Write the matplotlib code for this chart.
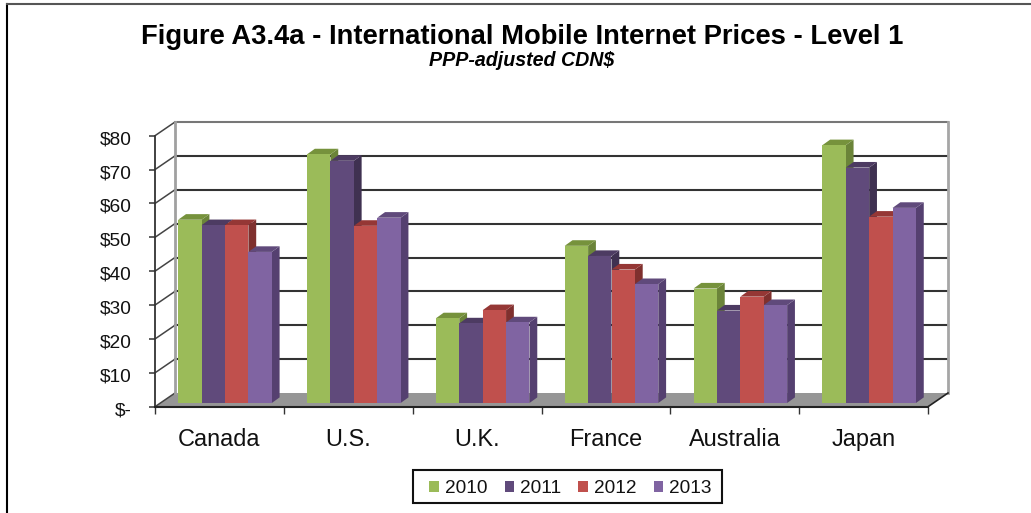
import matplotlib
matplotlib.use("AGG")
import matplotlib.pyplot as plt
from matplotlib.lines import Line2D
from matplotlib.patches import Patch, Rectangle
from matplotlib.transforms import ScaledTranslation

plt.rcParams['font.family'] = ['Liberation Sans', 'DejaVu Sans']

countries = ["Canada", "U.S.", "U.K.", "France", "Australia", "Japan"]
years = ["2010", "2011", "2012", "2013"]
y2010 = [54.1, 73.4, 25.0, 46.4, 33.8, 76.1]
y2011 = [52.5, 71.5, 23.5, 43.4, 27.3, 69.5]
y2012 = [52.5, 52.3, 27.4, 39.4, 31.4, 55.0]
y2013 = [44.6, 54.7, 23.8, 35.1, 28.9, 57.6]
series = [y2010, y2011, y2012, y2013]
y_ticks = [0, 10, 20, 30, 40, 50, 60, 70, 80]
y_labels = ["$-", "$10", "$20", "$30", "$40", "$50", "$60", "$70", "$80"]

front = ["#9BBB59", "#604A7B", "#C0504D", "#8064A2"]
top = ["#76923C", "#4D3B62", "#953735", "#604A7B"]
side = ["#6B8439", "#3F3151", "#7F302E", "#554070"]

W, H = 1031, 513
LEFT, RIGHT, BASE, TOP = 155, 928, 406.7, 135.7

fig = plt.figure(figsize=(W / 100, H / 100), dpi=100, facecolor="white")
ax = fig.add_axes([LEFT / W, 1 - BASE / H, (RIGHT - LEFT) / W, (BASE - TOP) / H])
ax.set_xlim(0, 6)
ax.set_ylim(0, 80)
ax.patch.set_visible(False)

# pixel sizes in data units
px_x = 6 / (RIGHT - LEFT)
px_y = 80 / (BASE - TOP)
wall_x = 20 * px_x
wall_y = 13.7 * px_y
bar_w = 23.4 * px_x
bar_start = 23.2 * px_x
lift = 3.7 * px_y
depth_x = 7.8 * px_x
depth_y = 5.6 * px_y

# floor and walls
ax.fill([0, 6, 6 + wall_x, wall_x], [0, 0, wall_y, wall_y], color="#969696", lw=0, zorder=1, clip_on=False)
for t in y_ticks[1:]:
    c = "#777777" if t == 80 else "#333333"
    ax.plot([wall_x, 6 + wall_x], [t + wall_y, t + wall_y], color=c, lw=1.5, zorder=2, clip_on=False)
for t in y_ticks:
    ax.plot([0, wall_x], [t, t + wall_y], color="#444444", lw=1.1, zorder=2, clip_on=False)
ax.plot([wall_x, wall_x], [wall_y, 80 + wall_y], color="#a0a0a0", lw=2, zorder=2, clip_on=False)
ax.plot([6 + wall_x, 6 + wall_x], [wall_y, 80 + wall_y], color="#a6a6a6", lw=2, zorder=2, clip_on=False)
ax.plot([6, 6 + wall_x], [0, wall_y], color="#222222", lw=1.2, zorder=2, clip_on=False)

# bars, painted left to right
z = 3
for i in range(len(countries)):
    for j, vals in enumerate(series):
        x0 = i + bar_start + j * bar_w
        x1 = x0 + bar_w
        v = vals[i]
        y1 = lift + v
        ax.fill([x1, x1 + depth_x, x1 + depth_x, x1], [lift, lift + depth_y, y1 + depth_y, y1],
                color=side[j], lw=0, zorder=z, clip_on=False)
        ax.fill([x0, x1, x1 + depth_x, x0 + depth_x], [y1, y1, y1 + depth_y, y1 + depth_y],
                color=top[j], lw=0, zorder=z, clip_on=False)
        ax.bar(x0, v, bar_w, bottom=lift, align="edge", color=front[j], lw=0, zorder=z + 0.5, clip_on=False)
        z += 1

for s in ["top", "right"]:
    ax.spines[s].set_visible(False)
ax.spines["left"].set_color("#333333")
ax.spines["bottom"].set_color("#222222")
ax.spines["left"].set_linewidth(1.3)
ax.spines["bottom"].set_linewidth(1.5)
ax.spines["left"].set_zorder(2)
ax.spines["bottom"].set_zorder(100)

ax.set_yticks(y_ticks)
ax.set_yticklabels(y_labels, fontsize=13.8, color="#111111")
ax.tick_params(axis="y", length=4.5, width=1.1, color="#333333", pad=12)
down = ScaledTranslation(0, -2 / 100, fig.dpi_scale_trans)
for lab in ax.get_yticklabels():
    lab.set_transform(lab.get_transform() + down)
ax.set_xticks(range(7))
ax.set_xticklabels([""] * 7)
ax.tick_params(axis="x", which="major", length=5, width=1.0, color="#333333")
ax.set_xticks([i + 0.5 for i in range(6)], minor=True)
ax.set_xticklabels(countries, minor=True, fontsize=16.9, color="#111111")
ax.tick_params(axis="x", which="minor", length=0, pad=15.5)

# titles
fig.text(522.5 / W, 1 - 36.5 / H, "Figure A3.4a - International Mobile Internet Prices - Level 1",
         ha="center", va="center", fontsize=19.7, fontweight="bold", color="black")
fig.text(522 / W, 1 - 61 / H, "PPP-adjusted CDN$", ha="center", va="center",
         fontsize=14.1, fontweight="bold", fontstyle="italic", color="black")

# legend box
fig.add_artist(Rectangle((413 / W, 1 - 503.3 / H), 308.7 / W, 33.3 / H, transform=fig.transFigure,
                         facecolor="white", edgecolor="#111111", lw=1.5))
handles = [Patch(facecolor=c, edgecolor="none", label=l) for c, l in zip(front, years)]
leg = fig.legend(handles=handles, loc="center", bbox_to_anchor=(570.5 / W, 1 - 488.5 / H), ncol=4, frameon=False,
                 fontsize=13.7, handlelength=0.52, handleheight=0.52, handletextpad=0.3, columnspacing=0.9,
                 labelcolor="#111111")
leg.set_zorder(10)

# outer frame, cut off at the right and bottom of the image
fig.add_artist(Line2D([6.5 / W, 6.5 / W], [0, 1 - 4 / H], color="black", lw=1.5, transform=fig.transFigure))
fig.add_artist(Line2D([6.5 / W, 1], [1 - 4 / H, 1 - 4 / H], color="#555555", lw=1.5, transform=fig.transFigure))

plt.savefig("out.png", dpi=100)
